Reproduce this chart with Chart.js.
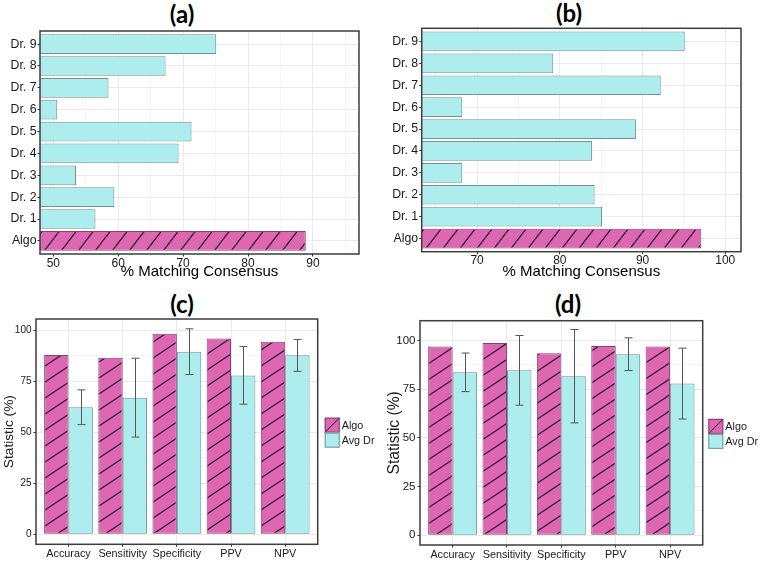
<!DOCTYPE html>
<html>
<head>
<meta charset="utf-8">
<script src="https://cdn.jsdelivr.net/npm/chart.js@4.4.0/dist/chart.umd.min.js"></script>
<style>
  body { margin: 0; background: #fff; width: 760px; height: 561px; position: relative; overflow: hidden; }
  canvas { position: absolute; }
  .ttl { position: absolute; font: bold 24px Lato, "Open Sans", sans-serif; color: #000; transform: translate(-50%, -50%); line-height: 1; }
</style>
</head>
<body>
<div class="ttl" style="left:182px;top:14px">(a)</div>
<div class="ttl" style="left:569px;top:13px">(b)</div>
<div class="ttl" style="left:182px;top:304px">(c)</div>
<div class="ttl" style="left:568px;top:304px">(d)</div>
<canvas id="chartA" width="380" height="284" style="left:0;top:0"></canvas>
<canvas id="chartB" width="380" height="284" style="left:380px;top:0"></canvas>
<canvas id="chartC" width="380" height="277" style="left:0;top:284px"></canvas>
<canvas id="chartD" width="380" height="277" style="left:380px;top:284px"></canvas>
<script>
// data
const raters = ['Algo', 'Dr. 1', 'Dr. 2', 'Dr. 3', 'Dr. 4', 'Dr. 5', 'Dr. 6', 'Dr. 7', 'Dr. 8', 'Dr. 9'];
const matchA = [88.9, 56.5, 59.4, 53.5, 69.3, 71.3, 50.6, 58.5, 67.3, 75.1];
const matchB = [97.1, 85.1, 84.2, 68.2, 83.9, 89.2, 68.2, 92.2, 79.2, 95.1];

const stats = ['Accuracy', 'Sensitivity', 'Specificity', 'PPV', 'NPV'];
const seriesNames = ['Algo', 'Avg Dr'];
const algoC = [87.8, 86.4, 98.2, 95.9, 94.3];
const avgDrC = [62.2, 66.9, 89.4, 77.8, 87.6];
const errC = [8.5, 19.3, 11.2, 14.1, 7.8];
const algoD = [97.0, 98.8, 93.5, 97.2, 96.9];
const avgDrD = [83.7, 84.7, 81.7, 93.0, 77.9];
const errD = [9.9, 17.9, 24.0, 8.4, 18.2];

const ticksA = [50, 60, 70, 80, 90];
const ticksB = [70, 80, 90, 100];
const statTicks = [0, 25, 50, 75, 100];

const PINK = '#de67b4', CYAN = '#aeeded';
const PINK_LINE = '#7e4470', CYAN_LINE = '#6c9696';

Chart.defaults.font.family = '"Liberation Sans", Arial, sans-serif';
Chart.defaults.color = '#1a1a1a';

function hatch(w, h) {
  const c = document.createElement('canvas');
  c.width = w; c.height = h;
  const g = c.getContext('2d');
  g.fillStyle = PINK;
  g.fillRect(0, 0, w, h);
  g.strokeStyle = '#2a0e25';
  g.lineWidth = 1.1;
  for (const k of [-1, 0, 1]) {
    g.beginPath();
    g.moveTo(k * w - w, 2 * h);
    g.lineTo(k * w + 2 * w, -h);
    g.stroke();
  }
  return g.createPattern(c, 'repeat');
}
const hatchFlat = hatch(17, 22);
const hatchTall = hatch(24, 16);

// panel frame
const panelBox = {
  id: 'panelBox',
  afterDraw(chart) {
    const {ctx, chartArea: a} = chart;
    ctx.save();
    ctx.strokeStyle = '#3d3d3d';
    ctx.lineWidth = 1.5;
    ctx.strokeRect(a.left, a.top, a.right - a.left, a.bottom - a.top);
    ctx.restore();
  }
};

const errorBars = {
  id: 'errorBars',
  afterDatasetsDraw(chart, args, opts) {
    if (!opts.errors) return;
    const ctx = chart.ctx;
    const ys = chart.scales.y;
    const ds = chart.data.datasets[opts.datasetIndex];
    const meta = chart.getDatasetMeta(opts.datasetIndex);
    ctx.save();
    ctx.strokeStyle = '#555';
    ctx.lineWidth = 1;
    meta.data.forEach((bar, i) => {
      const v = ds.data[i].y, e = opts.errors[i];
      const top = ys.getPixelForValue(v + e), bot = ys.getPixelForValue(v - e);
      const x = Math.round(bar.x) + 0.5, hw = 4;
      ctx.beginPath();
      ctx.moveTo(x, top); ctx.lineTo(x, bot);
      ctx.moveTo(x - hw, top); ctx.lineTo(x + hw, top);
      ctx.moveTo(x - hw, bot); ctx.lineTo(x + hw, bot);
      ctx.stroke();
    });
    ctx.restore();
  }
};

const keyLegend = {
  id: 'keyLegend',
  afterDraw(chart, args, opts) {
    if (!opts.show) return;
    const ctx = chart.ctx, a = chart.chartArea;
    const size = 15, x = a.right + opts.gap;
    const y0 = (a.top + a.bottom) / 2 + 1 - size;
    chart.data.datasets.forEach((ds, i) => {
      const y = y0 + i * size;
      ctx.save();
      ctx.fillStyle = i === 0 ? PINK : CYAN;
      ctx.fillRect(x, y, size, size);
      if (i === 0) {
        ctx.strokeStyle = '#2a0e25';
        ctx.lineWidth = 1;
        ctx.beginPath();
        ctx.moveTo(x, y + size); ctx.lineTo(x + size, y);
        ctx.stroke();
      }
      ctx.strokeStyle = i === 0 ? PINK_LINE : CYAN_LINE;
      ctx.lineWidth = 1;
      ctx.strokeRect(x + 0.5, y + 0.5, size - 1, size - 1);
      ctx.fillStyle = '#1a1a1a';
      ctx.font = '10.8px "Liberation Sans", Arial, sans-serif';
      ctx.textBaseline = 'middle';
      ctx.fillText(ds.label, x + size + 2, y + size / 2 + 0.5);
      ctx.restore();
    });
  }
};

Chart.register(panelBox, errorBars, keyLegend);

function gridFor(isMajor) {
  return {
    offset: false,
    color: c => (c.tick && isMajor(c.tick.value)) ? '#ebebeb' : '#f6f6f6',
    tickColor: c => (c.tick && isMajor(c.tick.value)) ? '#333' : 'rgba(0,0,0,0)',
    tickLength: 2.5,
    lineWidth: 1
  };
}

function matchChart(id, values, ticks, range, yWidth, xHeight, pad) {
  const gridVals = [];
  for (let v = ticks[0] - 5; v <= ticks[ticks.length - 1] + 5; v += 5) {
    if (v > range[0] && v < range[1]) gridVals.push(v);
  }
  return new Chart(document.getElementById(id), {
    type: 'bar',
    data: {
      datasets: [{
        label: '% Matching Consensus',
        data: values.map((v, i) => ({x: v, y: i + 1})),
        backgroundColor: values.map((v, i) => i === 0 ? hatchFlat : CYAN),
        borderColor: values.map((v, i) => i === 0 ? PINK_LINE : CYAN_LINE),
        borderWidth: 1,
        categoryPercentage: 0.9,
        barPercentage: 1
      }]
    },
    options: {
      indexAxis: 'y',
      responsive: false,
      animation: false,
      layout: {padding: pad},
      plugins: {legend: {display: false}, tooltip: {enabled: false}},
      scales: {
        x: {
          type: 'linear', min: range[0], max: range[1],
          afterBuildTicks: s => { s.ticks = gridVals.map(v => ({value: v})); },
          afterFit: s => { s.height = xHeight; },
          ticks: {autoSkip: false, maxRotation: 0, padding: -0.5, font: {size: 12},
                  callback: v => ticks.includes(v) ? String(v) : ''},
          grid: gridFor(v => ticks.includes(v)),
          border: {display: false},
          title: {display: true, text: '% Matching Consensus', font: {size: 15}, color: '#000', padding: {top: 0, bottom: 3}}
        },
        y: {
          type: 'linear', min: 0.4, max: raters.length + 0.6, offset: false,
          afterBuildTicks: s => { s.ticks = raters.map((r, i) => ({value: i + 1})); },
          afterFit: s => { s.width = yWidth; },
          ticks: {autoSkip: false, padding: 1, font: {size: 12.3},
                  callback: v => raters[Math.round(v) - 1]},
          grid: gridFor(() => true),
          border: {display: false}
        }
      }
    }
  });
}

function statChart(id, algo, avgDr, errs, range, yWidth, xHeight, pad, tickSize, titleSize, titlePad) {
  const gridVals = [];
  for (let v = 0; v <= 100; v += 12.5) gridVals.push(v);
  return new Chart(document.getElementById(id), {
    type: 'bar',
    data: {
      datasets: [{
        label: seriesNames[0],
        data: algo.map((v, i) => ({x: i + 1, y: v})),
        backgroundColor: hatchTall,
        borderColor: PINK_LINE,
        borderWidth: 1,
        borderSkipped: false,
        categoryPercentage: 0.9,
        barPercentage: 1
      }, {
        label: seriesNames[1],
        data: avgDr.map((v, i) => ({x: i + 1, y: v})),
        backgroundColor: CYAN,
        borderColor: CYAN_LINE,
        borderWidth: 1,
        borderSkipped: false,
        categoryPercentage: 0.9,
        barPercentage: 1
      }]
    },
    options: {
      responsive: false,
      animation: false,
      layout: {padding: pad},
      plugins: {
        legend: {display: false},
        tooltip: {enabled: false},
        errorBars: {errors: errs, datasetIndex: 1},
        keyLegend: {show: true, gap: pad.gap}
      },
      scales: {
        x: {
          type: 'linear', min: 0.4, max: stats.length + 0.6, offset: false,
          afterBuildTicks: s => { s.ticks = stats.map((c, i) => ({value: i + 1})); },
          afterFit: s => { s.height = xHeight; },
          ticks: {autoSkip: false, maxRotation: 0, padding: 1, font: {size: 10.8},
                  callback: v => stats[Math.round(v) - 1]},
          grid: gridFor(() => true),
          border: {display: false}
        },
        y: {
          type: 'linear', min: range[0], max: range[1],
          afterBuildTicks: s => { s.ticks = gridVals.map(v => ({value: v})); },
          afterFit: s => { s.width = yWidth; },
          ticks: {autoSkip: false, padding: 2, font: {size: tickSize},
                  callback: v => statTicks.includes(v) ? String(v) : ''},
          grid: gridFor(v => statTicks.includes(v)),
          border: {display: false},
          title: {display: true, text: 'Statistic (%)', font: {size: titleSize}, color: '#1a1a1a', padding: {top: titlePad, bottom: 0}}
        }
      }
    }
  });
}

matchChart('chartA', matchA, ticksA, [47.95, 97.1], 40, 30, {top: 31, right: 21, left: 0, bottom: 0});
matchChart('chartB', matchB, ticksB, [63.3, 101.9], 41.7, 32.3, {top: 28.3, right: 19, left: 0, bottom: 0});
statChart('chartC', algoC, avgDrC, errC, [-4.9, 105.4], 36, 16.7, {top: 35, right: 62.3, left: 0, bottom: 0, gap: 7}, 10, 13.7, 1.3);
statChart('chartD', algoD, avgDrD, errD, [-5.0, 110.2], 40, 16, {top: 36.7, right: 57.3, left: 0, bottom: 0, gap: 5.6}, 11.5, 15.6, 5.6);
</script>
</body>
</html>
